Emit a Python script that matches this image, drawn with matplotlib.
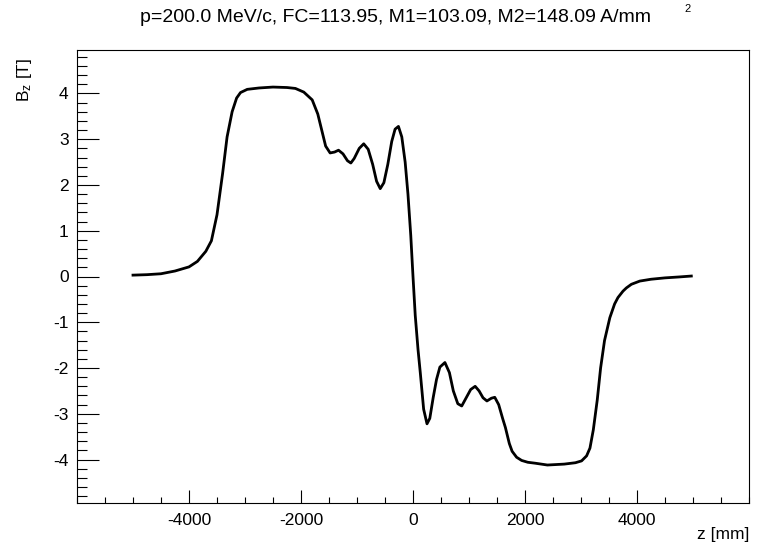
import numpy as np
import matplotlib
matplotlib.use('Agg')
import matplotlib.pyplot as plt
from matplotlib.ticker import MultipleLocator, FixedLocator

plt.rcParams['font.family'] = ['Liberation Sans', 'DejaVu Sans']
plt.rcParams['mathtext.fontset'] = 'custom'
plt.rcParams['mathtext.rm'] = 'Liberation Sans'
plt.rcParams['mathtext.default'] = 'regular'
plt.rcParams['axes.unicode_minus'] = False

# field profile
z_mm = [-5000, -4750, -4500, -4250, -4000, -3850, -3700, -3600, -3500, -3400,
        -3320, -3230, -3150, -3080, -2960, -2750, -2500, -2250, -2100, -1950,
        -1800, -1700, -1620, -1560, -1480, -1400, -1330, -1250, -1170, -1110,
        -1050, -960, -880, -800, -720, -650, -585, -520, -450, -380,
        -320, -260, -200, -140, -90, -40, 0, 40, 90, 130,
        190, 250, 300, 360, 420, 480, 570, 650, 720, 800,
        870, 950, 1030, 1110, 1180, 1250, 1320, 1400, 1460, 1530,
        1600, 1650, 1720, 1770, 1850, 1940, 2050, 2180, 2400, 2700,
        2900, 3010, 3100, 3160, 3220, 3290, 3350, 3420, 3515, 3600,
        3660, 3750, 3810, 3900, 4050, 4250, 4500, 4750, 4970]
bz_T = [0.03, 0.04, 0.06, 0.12, 0.21, 0.33, 0.55, 0.78, 1.35, 2.25,
        3.05, 3.60, 3.90, 4.02, 4.09, 4.12, 4.14, 4.13, 4.11, 4.03,
        3.86, 3.55, 3.15, 2.85, 2.70, 2.72, 2.76, 2.68, 2.53, 2.48,
        2.58, 2.80, 2.90, 2.78, 2.45, 2.08, 1.92, 2.05, 2.45, 2.95,
        3.22, 3.28, 3.05, 2.50, 1.80, 0.90, 0.00, -0.85, -1.60, -2.10,
        -2.90, -3.22, -3.10, -2.65, -2.25, -1.98, -1.88, -2.10, -2.50, -2.78,
        -2.83, -2.65, -2.47, -2.40, -2.50, -2.65, -2.72, -2.66, -2.64, -2.80,
        -3.10, -3.30, -3.65, -3.82, -3.95, -4.02, -4.06, -4.08, -4.12, -4.10,
        -4.07, -4.03, -3.92, -3.75, -3.35, -2.70, -2.00, -1.40, -0.90, -0.60,
        -0.46, -0.32, -0.25, -0.17, -0.10, -0.06, -0.03, -0.01, 0.01]

x_major = [-4000, -2000, 0, 2000, 4000]
title = 'p=200.0 MeV/c, FC=113.95, M1=103.09, M2=148.09 A/mm'

W, H = 759, 546
fig = plt.figure(figsize=(W / 100, H / 100), dpi=100)
ax = fig.add_axes([77 / W, 1 - 503 / H, (749 - 77) / W, (503 - 50) / H])

ax.plot(z_mm, bz_T, color='black', lw=2.0)

ax.set_xlim(-6000, 6000)
ax.set_ylim(-4.95, 4.95)
ax.xaxis.set_major_locator(FixedLocator(x_major))
ax.xaxis.set_minor_locator(MultipleLocator(500))
ax.yaxis.set_major_locator(MultipleLocator(1))
ax.yaxis.set_minor_locator(MultipleLocator(0.2))

ax.tick_params(axis='both', which='both', direction='in', width=0.8,
               colors='black', labelsize=12.5, top=False, right=False)
ax.tick_params(axis='x', which='major', length=9.4, pad=7)
ax.tick_params(axis='x', which='minor', length=4.3)
ax.tick_params(axis='y', which='major', length=15.6, pad=6)
ax.tick_params(axis='y', which='minor', length=7.2)
for s in ax.spines.values():
    s.set_linewidth(0.8)

fig.text(140 / W, 1 - 17 / H, title, fontsize=14, ha='left', va='center')
fig.text(688 / W, 1 - 9 / H, '2', fontsize=8, ha='center', va='center')
fig.text(25 / W, 1 - 58 / H, r'B$_{z}$ [T]', fontsize=12.5, rotation=90,
         ha='center', va='top')
fig.text(749 / W, 1 - 535 / H, 'z [mm]', fontsize=12.5, ha='right', va='center')

fig.savefig('out.png', dpi=100)
